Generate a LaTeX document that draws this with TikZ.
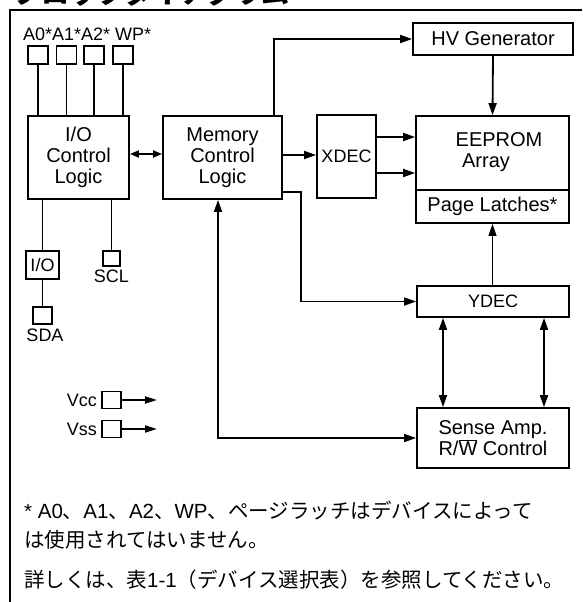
\documentclass[tikz,border=0pt]{standalone}
\usepackage{fontspec}
\setmainfont{Liberation Sans}
\newfontfamily\jp{Noto Sans CJK JP}
\usetikzlibrary{arrows.meta}
\newcommand{\bigf}{\fontsize{20}{21}\selectfont}
\newcommand{\smallf}{\fontsize{18}{20}\selectfont}
\newcommand{\notef}{\fontsize{20.5}{22}\selectfont}
\tikzset{
  blk/.style={draw, line width=1.8pt, inner sep=0pt, align=center, font=\bigf},
  pinbox/.style={draw, line width=1.6pt, inner sep=0pt, minimum width=19pt, minimum height=17pt},
  lbl/.style={inner sep=0pt, font=\smallf},
  ln/.style={line width=1.8pt},
  arr/.style={ln, -{Triangle[length=12pt,width=8pt]}},
  darr/.style={ln, {Triangle[length=12pt,width=8pt]}-{Triangle[length=12pt,width=8pt]}},
  note/.style={inner sep=0pt, anchor=base west, font=\notef},
}
\begin{document}
\begin{tikzpicture}[x=1pt,y=-1pt]
\useasboundingbox (0,0) rectangle (582,602);
% title (mostly cut off, as in the reference)
\begin{scope}
\clip (0,0) rectangle (582,602);
\node[inner sep=0pt, anchor=base west, font=\jp\bfseries\fontsize{28}{28}\selectfont] (title) at (13,4) {ブロックダイアグラム};
\end{scope}
% frame
\draw[line width=2pt] (582,10) -- (10,10) -- (10,602);

% main blocks
\node[blk, minimum width=101pt, minimum height=83pt] (io) at (78.5,157.5) {I/O\\Control\\Logic};
\node[blk, minimum width=119pt, minimum height=83pt] (mem) at (222.5,157.5) {Memory\\Control\\Logic};
\node[blk, minimum width=59pt, minimum height=83pt, font=\smallf] (xdec) at (346.5,156.5) {XDEC};
\node[blk, minimum width=160pt, minimum height=32pt] (hv) at (493,39) {HV Generator};
\node[blk, minimum width=153pt, minimum height=74pt] (eep) at (492.5,153) {};
\node[inner sep=0pt, font=\bigf] (eept) at (499,140) {EEPROM};
\node[inner sep=0pt, font=\bigf] (arrt) at (486,163) {Array};
\node[blk, minimum width=153pt, minimum height=33pt] (latch) at (492.5,206.5) {Page Latches*};
\node[blk, minimum width=152pt, minimum height=31pt, font=\smallf] (ydec) at (493,301.5) {YDEC};
\node[blk, minimum width=152pt, minimum height=60pt] (sense) at (493,438) {Sense Amp.\\R/$\overline{\mbox{W}}$ Control};

% pins
\node[lbl, anchor=base west] (pinl) at (23,41) {A0*A1*A2* WP*};
\node[pinbox, minimum width=20pt, minimum height=18pt] (a0) at (38,55) {};
\node[pinbox, minimum width=20pt, minimum height=18pt] (a1) at (66.5,55) {};
\node[pinbox, minimum width=20pt, minimum height=18pt] (a2) at (94,55) {};
\node[pinbox, minimum width=20pt, minimum height=18pt] (wp) at (123,55) {};
\foreach \p in {a0,a1,a2,wp} \draw[ln] (\p.south) -- (\p.south |- io.north);

\node[draw, line width=1.6pt, inner sep=0pt, minimum width=33pt, minimum height=28pt, font=\smallf] (ios) at (42.5,265) {I/O};
\node[pinbox] (sda) at (42.5,315.5) {};
\node[lbl] (sdal) at (45,335) {SDA};
\node[pinbox, minimum width=17pt, minimum height=15pt] (scl) at (111.5,258.5) {};
\node[lbl] (scll) at (111.5,276.5) {SCL};
\draw[ln] (io.south -| ios.north) -- (ios.north);
\draw[ln] (ios.south) -- (sda.north);
\draw[ln] (io.south -| scl.north) -- (scl.north);

% power pins
\node[pinbox] (vcc) at (111.5,400) {};
\node[pinbox] (vss) at (111.5,429) {};
\node[lbl, anchor=east] (vccl) at (97,400) {Vcc};
\node[lbl, anchor=east] (vssl) at (97,429) {Vss};
\coordinate (vcce) at (157,400);
\coordinate (vsse) at (157,429);
\draw[ln, -{Triangle[length=12pt,width=7pt]}] (vcc.east) -- (vcce);
\draw[ln, -{Triangle[length=12pt,width=7pt]}] (vss.east) -- (vsse);

% connectors
\coordinate (y154) at (0,154);
\coordinate (y155) at (0,155);
\coordinate (y137) at (0,137);
\coordinate (y173) at (0,173);
\coordinate (y192) at (0,192);
\coordinate (x274) at (274,0);
\coordinate (x301) at (301,0);
\coordinate (x218) at (218,0);
\coordinate (x443) at (443,0);
\coordinate (x544) at (544,0);
\draw[ln, {Triangle[length=9pt,width=7pt]}-{Triangle[length=9pt,width=7pt]}] (io.east |- y154) -- (mem.west |- y154);
\draw[arr] (mem.east |- y155) -- (xdec.west |- y155);
\draw[arr] (xdec.east |- y137) -- (eep.west |- y137);
\draw[arr] (xdec.east |- y173) -- (eep.west |- y173);
\draw[arr] (mem.north -| x274) |- (hv.west);
\draw[arr] (hv.south) -- (eep.north);
\draw[arr] (mem.east |- y192) -| (x301 |- ydec.west) -- (ydec.west);
\draw[line width=1pt, -{Triangle[length=12pt,width=8pt]}] (ydec.north -| latch.south) -- (latch.south);
\draw[darr] (ydec.south -| x443) -- (sense.north -| x443);
\draw[darr] (ydec.south -| x544) -- (sense.north -| x544);
\draw[darr] (mem.south -| x218) |- (sense.west);

% footnote
\node[note] (fn1) at (24,518) {* A0{\jp 、}A1{\jp 、}A2{\jp 、}WP{\jp 、ページラッチはデバイスによって}};
\node[note] (fn2) at (24,547) {\jp は使用されてはいません。};
\node[note] (fn3) at (24,587) {{\jp 詳しくは、表}1-1{\jp （デバイス選択表）を参照してください。}};
\end{tikzpicture}
\end{document}
